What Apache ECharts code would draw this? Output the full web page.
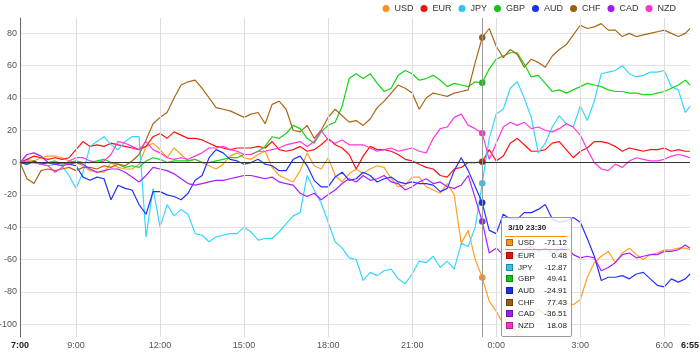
<!DOCTYPE html>
<html><head><meta charset="utf-8">
<script src="https://cdn.jsdelivr.net/npm/echarts@6/dist/echarts.min.js"></script>
<style>html,body{margin:0;padding:0;background:#fff}#c{width:700px;height:360px}</style>
</head><body><div id="c"></div>
<script>
const currencies = ['USD','EUR','JPY','GBP','AUD','CHF','CAD','NZD'];
const colors = ['#f7931e','#ee1111','#33c3f0','#14c314','#1f2fe6','#9a5f14','#9b1ff0','#ff33cc'];
const startHour = 7;
const tooltipDate = '3/10';
const hoverIndex = 66; // 23:30
const sampleMinutes = Array.from({length: 96}, (_, i) => i * 15).concat([1435]);
const xLabelMinutes = [0, 120, 300, 480, 660, 840, 1020, 1200, 1380, 1435];
const xGridMinutes = [120, 300, 480, 660, 840, 1020, 1200, 1380];

const usd = [0,2,1,3,4,4,3,1,0,-2,
-5,-6,-6,0,-3,-4,-4,-1,10,12,
8,3,9,5,1,2,0,-2,-4,-1,
4,6,3,2,5,7,-3,-8,-10,-12,
-5,6,-2,-4,3,-8,-12,-7,-4,-7,
-4,-2,-3,-10,-15,-14,-9,-9,-15,-17,
-19,-13,-20,-50,-42,-60,-71.12,-86,-92,-100,
-99,-107,-99,-95,-91,-94,-88,-85,-87,-88,
-85,-71,-62,-58,-55,-62,-56,-53,-57,-60,
-57,-56,-54,-54,-53,-53,-54];
const eur = [0,2,4,3,2,3,2,3,8,13,
10,11,10,12,11,10,9,8,10,16,
18,15,19,17,15,15,14,12,10,9,
8,9,9,9,10,9,13,8,7,8,
10,7,8,11,15,11,9,5,-4,4,
10,8,8,7,5,2,1,-1,-3,-4,
-8,-9,-4,-3,0,0,0.48,8,1,4,
12,15,11,7,7,8,12,13,8,3,
7,9,13,13,12,10,7,9,8,7,
8,8,9,7,8,7,7];
const jpy = [0,-1,0,-1,-2,-1,-2,-8,-16,-6,
10,13,16,11,8,13,16,16,-46,-16,
-40,-26,-33,-29,-32,-44,-45,-49,-46,-45,
-44,-44,-40,-43,-48,-47,-47,-43,-38,-33,
-31,-8,-17,-25,-37,-49,-53,-59,-60,-73,
-68,-70,-67,-66,-72,-75,-69,-61,-62,-58,
-65,-61,-66,-50,-52,-40,-12.87,15,30,33,
46,50,40,28,6,12,22,29,24,22,
35,26,38,55,56,57,60,55,53,54,
56,56,57,47,45,31,35];
const gbp = [0,-1,1,-1,0,1,-1,0,1,0,
0,1,2,0,-1,-3,-2,-3,1,3,
2,0,1,1,1,2,0,0,1,2,
3,3,5,5,7,10,16,15,18,23,
21,15,12,19,23,25,35,52,55,52,
55,49,44,46,54,57,55,51,52,54,
51,47,49,48,47,50,49.41,58,64,66,
68,68,61,53,54,49,44,45,43,45,
47,49,48,47,45,44,44,43,43,42,
42,43,44,46,48,51,48];
const aud = [0,-1,1,-1,0,-1,0,-1,-2,-9,
-11,-9,-10,-23,-14,-16,-17,-26,-32,-18,
-18,-20,-21,-23,-19,-11,-8,3,8,6,
2,1,-1,0,2,-1,-2,-5,-5,2,
4,-2,-11,-15,-15,-9,-6,-11,-10,-6,
-8,-12,-10,-9,-12,-13,-12,-13,-13,-14,
-18,-16,-5,3,-5,-15,-24.91,-42,-44,-32,
-35,-35,-31,-31,-29,-26,-35,-37,-36,-34,
-37,-47,-58,-73,-71,-71,-70,-72,-69,-68,
-72,-76,-77,-72,-74,-72,-69];
const chf = [0,-10,-13,-5,-4,-5,-4,-3,-5,-3,
-3,-4,-2,-3,-1,-2,1,5,14,24,
28,31,40,48,50,51,46,40,34,33,
32,30,28,30,31,24,36,38,33,20,
19,23,15,20,28,33,29,25,26,23,
27,34,38,43,48,46,43,33,40,43,
42,41,43,44,45,62,77.43,83,72,65,
70,67,59,64,62,59,66,70,73,79,
85,83,84,86,82,82,78,80,78,79,
80,81,82,80,78,80,83];
const cad = [0,5,6,4,0,-1,-2,-1,0,-1,
-4,-6,-5,-4,-4,-6,-9,-12,-8,-3,
-4,-5,-7,-10,-13,-14,-13,-12,-11,-11,
-10,-9,-8,-8,-9,-10,-9,-12,-13,-14,
-19,-21,-19,-23,-20,-17,-13,-10,-12,-8,
-11,-10,-8,-12,-13,-17,-15,-12,-10,-13,
-12,-15,-16,-14,-8,-22,-36.51,-56,-53,-57,
-55,-58,-54,-52,-55,-53,-56,-54,-52,-57,
-59,-58,-59,-67,-65,-62,-57,-56,-59,-58,
-57,-57,-55,-55,-54,-51,-53];
const nzd = [0,1,0,-1,-2,-6,-3,1,3,3,
1,0,1,5,13,12,10,8,13,8,
6,3,2,3,2,4,6,9,9,10,
8,7,5,5,7,7,8,9,11,12,
13,10,13,20,14,12,14,11,11,11,
9,7,8,9,7,8,9,7,6,15,
21,22,28,30,23,21,18.08,2,12,22,
25,23,25,21,22,20,19,21,24,22,
17,8,0,-4,-5,-1,-3,1,3,2,
1,1,2,4,5,4,3];
const seriesValues = [usd, eur, jpy, gbp, aud, chf, cad, nzd];

const FONT = "'Liberation Sans', Arial, sans-serif";
function minuteLabel(v) {
  const total = startHour * 60 + v;
  const h = Math.floor(total / 60) % 24;
  const m = total % 60;
  return h + ':' + String(m).padStart(2, '0');
}

const chart = echarts.init(document.getElementById('c'));
const lineSeries = currencies.map((name, i) => ({
  name: name,
  type: 'line',
  data: seriesValues[i].map((v, j) => [sampleMinutes[j], v]),
  showSymbol: false,
  symbol: 'circle',
  symbolSize: 6.5,
  lineStyle: { width: 1.2, color: colors[i] },
  itemStyle: { color: colors[i] },
  emphasis: { scale: false, lineStyle: { width: 1.2 } },
  z: 3
}));
lineSeries.push({
  name: 'grid',
  type: 'line',
  data: [],
  z: 1,
  silent: true,
  markLine: {
    silent: true,
    symbol: ['none', 'none'],
    label: { show: false },
    animation: false,
    data: xGridMinutes.map(m => ({ xAxis: m, lineStyle: { color: '#dddddd', width: 1, type: 'solid' } }))
      .concat([{ yAxis: 0, lineStyle: { color: '#333333', width: 1, type: 'solid' } }])
  }
});

chart.setOption({
  animation: false,
  color: colors,
  textStyle: { fontFamily: FONT },
  legend: {
    data: currencies,
    right: 24, top: 4, padding: 0,
    itemWidth: 7, itemHeight: 7, itemGap: 7,
    icon: 'circle',
    textStyle: { fontSize: 9, color: '#333', fontFamily: FONT }
  },
  grid: { left: 20, right: 10, top: 18, bottom: 23, outerBoundsMode: 'none', containLabel: false },
  xAxis: {
    type: 'value', min: 0, max: 1435, interval: 60,
    axisLine: { show: false },
    axisTick: { show: false },
    splitLine: { show: false },
    axisLabel: {
      margin: 4, fontSize: 9, color: '#555', fontFamily: FONT,
      showMinLabel: true, showMaxLabel: true,
      formatter: function (v) {
        if (xLabelMinutes.indexOf(v) < 0) return '';
        const t = minuteLabel(v);
        return (v === xLabelMinutes[0] || v === xLabelMinutes[xLabelMinutes.length - 1]) ? '{b|' + t + '}' : t;
      },
      rich: { b: { fontWeight: 'bold', color: '#222', fontSize: 9, fontFamily: FONT } }
    }
  },
  yAxis: {
    type: 'value', min: -108, max: 89.5, splitNumber: 10,
    axisLine: { show: true, onZero: false, lineStyle: { color: '#666' } },
    axisTick: { show: false },
    splitLine: { show: true, showMinLine: false, showMaxLine: false, lineStyle: { color: '#e4e4e4' } },
    axisLabel: {
      margin: 3, fontSize: 9, color: '#555', fontFamily: FONT,
      showMinLabel: false, showMaxLabel: false,
      formatter: v => (Math.abs(v % 20) < 1e-9 ? String(v) : '')
    }
  },
  tooltip: {
    trigger: 'axis',
    triggerOn: 'none',
    alwaysShowContent: true,
    transitionDuration: 0,
    position: [501, 217],
    backgroundColor: 'rgba(255,255,255,0.82)',
    borderColor: '#999',
    borderWidth: 1,
    padding: [3, 4, 4, 3],
    extraCssText: 'box-shadow:none;border-radius:2px;width:62px;',
    axisPointer: { type: 'line', animation: false, lineStyle: { color: '#999', width: 1, type: 'solid' } },
    formatter: function (params) {
      const ps = params.filter(p => currencies.indexOf(p.seriesName) >= 0);
      const x = ps[0].value[0];
      const hl = colors[0];
      let html = '<div style="font:bold 8px ' + FONT + ';color:#222;line-height:12px;padding:1px 0 2px 3px;border-bottom:1px solid ' + hl + '">' + tooltipDate + ' ' + minuteLabel(x) + '</div>';
      ps.forEach(function (p) {
        const border = p.seriesIndex === 0 ? 'border-bottom:1px solid ' + hl + ';' : '';
        html += '<div style="display:flex;align-items:center;height:11.7px;font:8px ' + FONT + ';color:#222;' + border + '">' +
          '<span style="box-sizing:border-box;width:7px;height:7px;background:' + p.color + ';border:1px solid rgba(0,0,0,0.3);margin:0 5px 0 1px"></span>' +
          '<span style="width:21px">' + p.seriesName + '</span>' +
          '<span style="flex:1;text-align:right">' + p.value[1].toFixed(2) + '</span></div>';
      });
      return html;
    }
  },
  series: lineSeries
});
chart.dispatchAction({ type: 'showTip', seriesIndex: 0, dataIndex: hoverIndex });
</script>
</body></html>
